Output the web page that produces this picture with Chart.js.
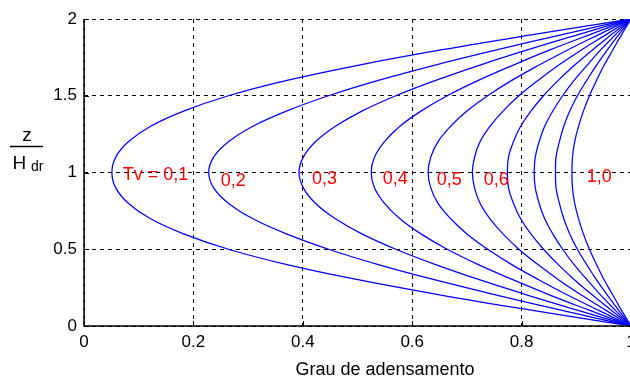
<!DOCTYPE html>
<html>
<head>
<meta charset="utf-8">
<script src="https://cdn.jsdelivr.net/npm/chart.js@4/dist/chart.umd.min.js"></script>
<style>
  html, body { margin: 0; padding: 0; background: #fff; overflow: hidden; }
  #wrap { width: 632px; height: 384px; }
</style>
</head>
<body>
<div id="wrap"><canvas id="c" width="632" height="384"></canvas></div>
<script>
// Depth ratio z / H_dr (vertical axis)
const depthRatio = [0, 0.1, 0.2, 0.3, 0.4, 0.5, 0.6, 0.7, 0.8, 0.9, 1.0,
                    1.1, 1.2, 1.3, 1.4, 1.5, 1.6, 1.7, 1.8, 1.9, 2.0];

// Degree of consolidation U_z along the depth, one isochrone per time factor Tv
const uTv01 = [1, 0.823, 0.655, 0.503, 0.371, 0.264, 0.182, 0.121, 0.081, 0.058, 0.051,
               0.058, 0.081, 0.121, 0.182, 0.264, 0.371, 0.503, 0.655, 0.823, 1];
const uTv02 = [1, 0.876, 0.756, 0.642, 0.538, 0.447, 0.370, 0.308, 0.264, 0.237, 0.228,
               0.237, 0.264, 0.308, 0.370, 0.447, 0.538, 0.642, 0.756, 0.876, 1];
const uTv03 = [1, 0.905, 0.812, 0.724, 0.643, 0.570, 0.508, 0.459, 0.423, 0.401, 0.393,
               0.401, 0.423, 0.459, 0.508, 0.570, 0.643, 0.724, 0.812, 0.905, 1];
const uTv04 = [1, 0.926, 0.853, 0.785, 0.721, 0.664, 0.616, 0.577, 0.549, 0.531, 0.525,
               0.531, 0.549, 0.577, 0.616, 0.664, 0.721, 0.785, 0.853, 0.926, 1];
const uTv05 = [1, 0.942, 0.885, 0.832, 0.782, 0.738, 0.700, 0.670, 0.647, 0.634, 0.629,
               0.634, 0.647, 0.670, 0.700, 0.738, 0.782, 0.832, 0.885, 0.942, 1];
const uTv06 = [1, 0.955, 0.910, 0.868, 0.830, 0.795, 0.766, 0.742, 0.724, 0.714, 0.710,
               0.714, 0.724, 0.742, 0.766, 0.795, 0.830, 0.868, 0.910, 0.955, 1];
const uTv07 = [1, 0.965, 0.930, 0.897, 0.867, 0.840, 0.817, 0.798, 0.785, 0.776, 0.774,
               0.776, 0.785, 0.798, 0.817, 0.840, 0.867, 0.897, 0.930, 0.965, 1];
const uTv08 = [1, 0.972, 0.945, 0.920, 0.896, 0.875, 0.857, 0.842, 0.832, 0.825, 0.823,
               0.825, 0.832, 0.842, 0.857, 0.875, 0.896, 0.920, 0.945, 0.972, 1];
const uTv09 = [1, 0.978, 0.957, 0.937, 0.919, 0.902, 0.888, 0.877, 0.869, 0.863, 0.862,
               0.863, 0.869, 0.877, 0.888, 0.902, 0.919, 0.937, 0.957, 0.978, 1];
const uTv10 = [1, 0.983, 0.967, 0.951, 0.937, 0.924, 0.913, 0.904, 0.897, 0.893, 0.892,
               0.893, 0.897, 0.904, 0.913, 0.924, 0.937, 0.951, 0.967, 0.983, 1];

const isochrones = [uTv01, uTv02, uTv03, uTv04, uTv05, uTv06, uTv07, uTv08, uTv09, uTv10];

// Tick labels
const xTickLabels = ['0', '0.2', '0.4', '0.6', '0.8', '1'];
const yTickLabels = ['0', '0.5', '1', '1.5', '2'];

// Curve annotations (text)
const curveLabels = ['Tv = 0,1', '0,2', '0,3', '0,4', '0,5', '0,6', '1,0'];

// Where each annotation sits, in axis units (left edge, baseline)
const curveLabelAnchors = [
  [0.071, 0.951], [0.250, 0.910], [0.417, 0.925], [0.546, 0.925],
  [0.645, 0.920], [0.731, 0.920], [0.919, 0.936]
];

const FONT = "'Liberation Sans', Arial, sans-serif";

const datasets = isochrones.map(u => ({
  data: u.map((v, i) => ({ x: v, y: depthRatio[i] })),
  showLine: true,
  borderColor: '#0000ff',
  borderWidth: 1.25,
  pointRadius: 0,
  tension: 0.4,
  fill: false
}));

const decorations = {
  id: 'decorations',
  afterDatasetsDraw(chart) {
    const { ctx, chartArea: a, scales: { x, y } } = chart;
    ctx.save();

    // curve annotations
    ctx.fillStyle = '#ff0000';
    ctx.font = `18px ${FONT}`;
    ctx.textAlign = 'left';
    ctx.textBaseline = 'alphabetic';
    curveLabels.forEach((t, i) => {
      const [dx, dy] = curveLabelAnchors[i];
      ctx.fillText(t, x.getPixelForValue(dx), y.getPixelForValue(dy));
    });

    // solid axis lines with inward ticks
    ctx.strokeStyle = '#000';
    ctx.lineWidth = 1.5;
    ctx.beginPath();
    ctx.moveTo(a.left, a.top);
    ctx.lineTo(a.left, a.bottom);
    ctx.lineTo(a.right, a.bottom);
    ctx.stroke();
    ctx.lineWidth = 1;
    ctx.beginPath();
    y.ticks.forEach(t => {
      const py = Math.round(y.getPixelForValue(t.value)) + 0.5;
      ctx.moveTo(a.left, py);
      ctx.lineTo(a.left + 5, py);
    });
    x.ticks.forEach(t => {
      const px = Math.round(x.getPixelForValue(t.value)) + 0.5;
      ctx.moveTo(px, a.bottom);
      ctx.lineTo(px, a.bottom - 5);
    });
    ctx.stroke();

    // vertical axis title: z over H_dr
    ctx.fillStyle = '#000';
    ctx.textAlign = 'center';
    ctx.font = `19px ${FONT}`;
    ctx.fillText('z', 27, 141);
    ctx.lineWidth = 1.5;
    ctx.beginPath();
    ctx.moveTo(10, 146.5);
    ctx.lineTo(43, 146.5);
    ctx.stroke();
    ctx.textAlign = 'left';
    ctx.fillText('H', 12.5, 168.5);
    ctx.font = `14px ${FONT}`;
    ctx.fillText('dr', 31, 170.5);

    // horizontal axis title
    ctx.font = `18px ${FONT}`;
    ctx.textAlign = 'center';
    ctx.fillText('Grau de adensamento', 385, 375);

    ctx.restore();
  }
};

new Chart(document.getElementById('c'), {
  type: 'scatter',
  data: { datasets },
  options: {
    responsive: false,
    animation: false,
    events: [],
    layout: { padding: { left: 0, right: 1, top: 19, bottom: 0 } },
    plugins: { legend: { display: false }, tooltip: { enabled: false }, title: { display: false } },
    scales: {
      x: {
        type: 'linear',
        min: 0, max: 1,
        ticks: {
          stepSize: 0.2,
          padding: 6,
          color: '#000',
          font: { family: FONT, size: 17 },
          maxRotation: 0,
          callback: (v, i) => xTickLabels[i]
        },
        grid: { color: '#000', lineWidth: 1, drawTicks: false },
        border: { display: false, dash: [4, 4] },
        afterFit(s) { s.height = 58; s.paddingLeft = 0; s.paddingRight = 0; }
      },
      y: {
        type: 'linear',
        min: 0, max: 2,
        ticks: {
          stepSize: 0.5,
          padding: 7,
          color: '#000',
          font: { family: FONT, size: 17 },
          callback: (v, i) => yTickLabels[i]
        },
        grid: { color: '#000', lineWidth: 1, drawTicks: false },
        border: { display: false, dash: [4, 4] },
        afterFit(s) { s.width = 84; s.paddingTop = 0; s.paddingBottom = 0; }
      }
    }
  },
  plugins: [decorations]
});
</script>
</body>
</html>
